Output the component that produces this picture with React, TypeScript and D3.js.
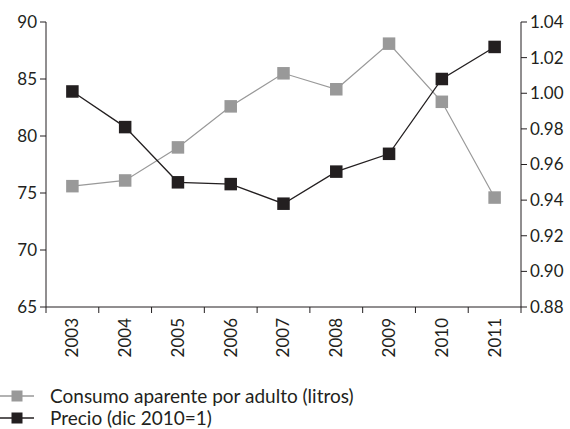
import React from "react";
import { scaleLinear, scaleBand, line } from "d3";

const years = ["2003", "2004", "2005", "2006", "2007", "2008", "2009", "2010", "2011"];
const consumo = [75.6, 76.1, 79.0, 82.6, 85.5, 84.1, 88.1, 83.0, 74.6];
const precio = [1.001, 0.981, 0.95, 0.949, 0.938, 0.956, 0.966, 1.008, 1.026];
const leftTicks = [65, 70, 75, 80, 85, 90];
const rightTicks = [0.88, 0.9, 0.92, 0.94, 0.96, 0.98, 1.0, 1.02, 1.04];
const legendLabels = ["Consumo aparente por adulto (litros)", "Precio (dic 2010=1)"];

const width = 570;
const height = 429;
const left = 46;
const right = 521;
const top = 22;
const bottom = 307;
const font = "Lato, 'Open Sans', sans-serif";
const dark = "#231f20";
const gray = "#999999";

const App = () => {
  const x = scaleBand().domain(years).range([left, right]);
  const yL = scaleLinear().domain([65, 90]).range([bottom, top]);
  const yR = scaleLinear().domain([0.88, 1.04]).range([bottom, top]);
  const cx = (d: string) => (x(d) as number) + x.bandwidth() / 2;

  const lineC = line<number>().x((_, i) => cx(years[i])).y((d) => yL(d));
  const lineP = line<number>().x((_, i) => cx(years[i])).y((d) => yR(d));
  const m = 12.5;

  const boundaries = [...years.map((d) => x(d) as number), right];

  return (
    <svg width={width} height={height} style={{ position: "absolute", left: 0, top: 0 }}>
      <g fontFamily={font} fill={dark}>
        {/* axes */}
        <line x1={left} x2={left} y1={top} y2={bottom} stroke={dark} />
        <line x1={right} x2={right} y1={top} y2={bottom} stroke={dark} />
        <line x1={left} x2={right} y1={bottom} y2={bottom} stroke={dark} />
        {leftTicks.map((t) => (
          <g key={t}>
            <line x1={left - 6} x2={left} y1={yL(t)} y2={yL(t)} stroke={dark} />
            <text x={left - 9} y={yL(t)} dy="0.35em" textAnchor="end" fontSize={17}>
              {t}
            </text>
          </g>
        ))}
        {rightTicks.map((t) => (
          <g key={t}>
            <line x1={right} x2={right + 6} y1={yR(t)} y2={yR(t)} stroke={dark} />
            <text x={right + 9} y={yR(t)} dy="0.35em" textAnchor="start" fontSize={17}>
              {t.toFixed(2)}
            </text>
          </g>
        ))}
        {boundaries.map((b, i) => (
          <line key={i} x1={b} x2={b} y1={bottom} y2={bottom + 6} stroke={dark} />
        ))}
        {years.map((d) => (
          <text
            key={d}
            transform={`translate(${cx(d)},${bottom + 11}) rotate(-90)`}
            dy="0.35em"
            textAnchor="end"
            fontSize={17}
          >
            {d}
          </text>
        ))}

        {/* series */}
        <path d={lineC(consumo) || ""} fill="none" stroke={gray} strokeWidth={1.2} />
        {consumo.map((v, i) => (
          <rect key={i} x={cx(years[i]) - m / 2} y={yL(v) - m / 2} width={m} height={m} fill={gray} />
        ))}
        <path d={lineP(precio) || ""} fill="none" stroke={dark} strokeWidth={1.3} />
        {precio.map((v, i) => (
          <rect key={i} x={cx(years[i]) - m / 2} y={yR(v) - m / 2} width={m} height={m} fill={dark} />
        ))}

        {/* legend */}
        {legendLabels.map((l, i) => {
          const ly = 396 + i * 22;
          const c = i === 0 ? gray : dark;
          return (
            <g key={l}>
              <line x1={0} x2={34} y1={ly} y2={ly} stroke={c} strokeWidth={1.3} />
              <rect x={17 - 5.5} y={ly - 5.5} width={11} height={11} fill={c} />
              <text x={50} y={ly} dy="0.35em" fontSize={19}>
                {l}
              </text>
            </g>
          );
        })}
      </g>
    </svg>
  );
};

export default App;
